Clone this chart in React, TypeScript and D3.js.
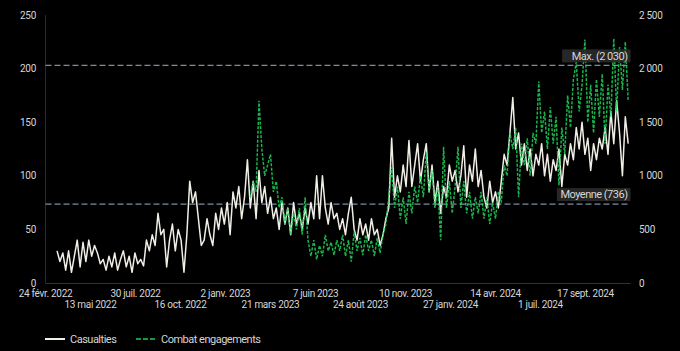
import * as d3 from 'd3'

const casualtiesStart = '2022-03-16'
const engagementsStart = '2023-02-14'
const stepDays = 5

const casualties = [
  30, 20, 28, 12, 30, 10, 25, 40, 15, 38, 20, 40, 25, 35,
  28, 18, 22, 12, 25, 15, 28, 12, 22, 30, 15, 25, 10, 28, 18, 22, 16, 40,
  30, 45, 35, 65, 45, 50, 15, 40, 55, 30, 50, 40, 10, 45, 95,
  75, 85, 60, 35, 40, 60, 45, 35, 65, 50, 70, 55, 75, 45, 85, 70, 90,
  60, 80, 115,
  70, 95, 60, 105, 75, 90, 65, 80, 60,
  70, 50, 75, 55, 70, 45, 75, 55,
  65, 50, 70, 55, 75, 60,
  100, 60, 100,
  70, 55, 75, 60,
  65, 50, 60, 45, 65,
  80,
  50, 40, 60, 45, 55, 40, 60, 45, 50,
  35, 45, 60, 70, 135,
  80, 100, 85, 110, 90, 133, 90, 110, 130, 95, 115, 130,
  85, 110, 75, 95, 65,
  90, 80, 110, 95, 105, 85, 100, 128, 80,
  110, 95, 125, 90,
  105, 80, 70, 95, 75, 85, 70,
  95, 120, 110, 140, 173,
  125, 140, 110, 130, 105,
  125, 100, 120, 110, 130, 100, 120,
  95, 115, 105, 125, 90, 120,
  110, 130, 115, 145,
  125, 150, 120, 135,
  105, 130, 115, 135,
  125, 145, 120, 160, 130,
  170, 140, 100, 155, 130,
]

const engagements = [
  800, 950, 850, 1700, 1250, 1000, 1100, 1200, 850, 950,
  700, 800, 550, 700, 450, 650, 500, 700, 450, 800,
  400, 250, 400, 220, 350, 250, 450, 300, 380, 260,
  400, 300, 450, 250, 400, 200, 480, 300, 420, 260,
  450, 300, 400, 250, 420, 280, 450, 550, 800, 1080,
  700, 900, 600, 800, 550, 850, 650, 900, 750, 1000,
  800, 1220, 850, 1050, 700, 900, 400, 1270, 700, 950,
  650, 900, 1270, 700, 950, 650, 850, 600, 800, 650,
  850, 600, 800, 550, 750, 600, 850, 750, 1100, 1000,
  1400, 1250, 1450, 800, 1300, 1100, 1350, 1000, 1400, 1300,
  1880, 1400, 1600, 1250, 1640, 1300, 1550, 910, 1450, 1200,
  1750, 1450, 1900, 2060, 1600, 1850, 2270, 1500, 1850, 1400,
  1900, 1550, 1950, 1300, 1850, 1550, 2280, 1600, 2200, 1800,
  2250, 1700,
]

const tickDates = [
  '2022-02-24', '2022-05-13', '2022-07-30', '2022-10-16', '2023-01-02', '2023-03-21', '2023-06-07',
  '2023-08-24', '2023-11-10', '2024-01-27', '2024-04-14', '2024-07-01', '2024-09-17',
]
const tickLabels = [
  '24 févr. 2022', '13 mai 2022', '30 juil. 2022', '16 oct. 2022', '2 janv. 2023', '21 mars 2023', '7 juin 2023',
  '24 août 2023', '10 nov. 2023', '27 janv. 2024', '14 avr. 2024', '1 juil. 2024', '17 sept. 2024',
]
const leftTicks = [0, 50, 100, 150, 200, 250]
const rightTicks = [0, 500, 1000, 1500, 2000, 2500]
const rightTickLabels = ['0', '500', '1 000', '1 500', '2 000', '2 500']

const maxEngagements = 2030
const meanEngagements = 736
const maxLabel = 'Max. (2 030)'
const meanLabel = 'Moyenne (736)'

const W = 680
const H = 351
const font = 'Roboto, "Noto Sans", sans-serif'
const textColor = '#d6d6d6'
const green = '#1fd35a'

export default function App() {
  const parse = d3.utcParse('%Y-%m-%d')
  const x = d3.scaleUtc()
    .domain([parse('2022-02-24')!, parse('2024-12-04')!])
    .range([45.5, 630.5])
  const yLeft = d3.scaleLinear().domain([0, 250]).range([283, 15])
  const yRight = d3.scaleLinear().domain([0, 2500]).range([283, 15])

  const c0 = parse(casualtiesStart)!
  const e0 = parse(engagementsStart)!
  const casPts = casualties.map((v, i) => [d3.utcDay.offset(c0, i * stepDays), v] as [Date, number])
  const engPts = engagements.map((v, i) => [d3.utcDay.offset(e0, i * stepDays), v] as [Date, number])

  const casLine = d3.line<[Date, number]>().x(d => x(d[0])).y(d => yLeft(d[1]))
  const engLine = d3.line<[Date, number]>().x(d => x(d[0])).y(d => yRight(d[1]))

  const [x0, x1] = x.range()
  const boxW = (s: string) => s.length * 5.2 + 6

  const tick = { fontSize: 10, fill: textColor, letterSpacing: -0.3 }
  const big = { fontSize: 11, fill: textColor, letterSpacing: -0.5 }

  return (
    <div style={{ position: 'absolute', left: 0, top: 0, width: W, height: H, background: '#000' }}>
      <svg width={W} height={H} style={{ display: 'block', fontFamily: font }}>
        <rect width={W} height={H} fill="#000" />

        {/* axes lines */}
        <line x1={x0} x2={x0} y1={15} y2={283} stroke="#2a2a2a" />
        <line x1={x0} x2={x1} y1={283.5} y2={283.5} stroke="#333" />

        {leftTicks.map(t => (
          <text key={t} x={36} y={yLeft(t)} dy="0.35em" textAnchor="end" {...tick}>{t}</text>
        ))}
        {rightTicks.map((t, i) => (
          <text key={t} x={639} y={yRight(t)} dy="0.35em" textAnchor="start" {...tick}>{rightTickLabels[i]}</text>
        ))}
        {tickDates.map((d, i) => (
          <text key={d} x={x(parse(d)!)} y={i % 2 === 0 ? 293.5 : 304} dy="0.35em" textAnchor="middle" {...tick}>
            {tickLabels[i]}
          </text>
        ))}

        {/* reference lines */}
        {[maxEngagements, meanEngagements].map(v => (
          <line key={v} x1={x0} x2={x1 - 2} y1={yRight(v)} y2={yRight(v)} stroke="#7a8ea4" strokeWidth={1.2} strokeDasharray="6 3" />
        ))}

        <path d={casLine(casPts)!} fill="none" stroke="#f1eee6" strokeWidth={1.5} strokeLinejoin="round" />
        <path d={engLine(engPts)!} fill="none" stroke={green} strokeWidth={1.5} strokeDasharray="3 1.5" opacity={0.85} />

        {/* labels for reference lines */}
        {[[maxEngagements, maxLabel], [meanEngagements, meanLabel]].map(([v, s]) => (
          <g key={s as string}>
            <rect x={x1 - boxW(s as string)} y={yRight(v as number) - 16} width={boxW(s as string)} height={13} fill="#2b2b2b" opacity={0.9} />
            <text x={x1 - 3} y={yRight(v as number) - 9.5} dy="0.35em" textAnchor="end" {...big}>{s}</text>
          </g>
        ))}

        {/* legend */}
        <line x1={45} x2={65} y1={339} y2={339} stroke="#f1eee6" strokeWidth={2} />
        <text x={70} y={339} dy="0.35em" {...big}>Casualties</text>
        <line x1={136} x2={157} y1={339} y2={339} stroke="#159a3c" strokeWidth={2} strokeDasharray="5 2" />
        <text x={161} y={339} dy="0.35em" {...big}>Combat engagements</text>
      </svg>
    </div>
  )
}
